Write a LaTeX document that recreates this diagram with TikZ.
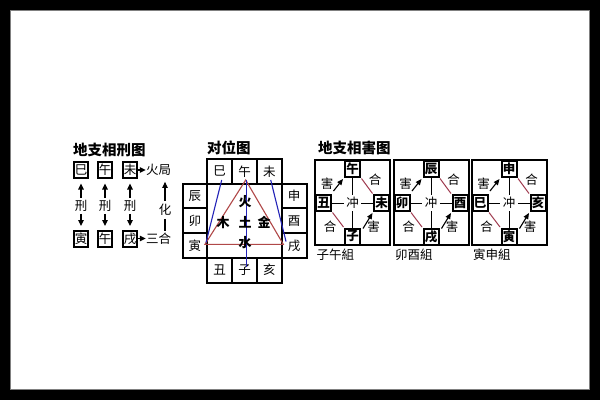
\documentclass[tikz,border=0pt]{standalone}
\usepackage{fontspec}
\newfontfamily\cjk{Noto Sans CJK SC}
\usetikzlibrary{arrows.meta}
\definecolor{tri}{HTML}{B04848}
\definecolor{hering}{HTML}{A03C50}
\definecolor{bl}{HTML}{2424B8}
\newcommand\haipanel[7]{%
\begin{scope}[shift={(#1,0)}]
\node[pframe] (#2-f) at (37.5,202.5) {};
\node[hbox] (#2-t) at (37.5,169) {#3};
\node[hbox] (#2-l) at (8.5,203) {#4};
\node[hbox] (#2-r) at (66.5,203) {#5};
\node[hbox] (#2-b) at (37.5,236.5) {#6};
\node[lab, inner sep=2.5] (#2-c) at (37.5,203) {冲};
\draw[hline] (#2-t) -- (#2-c);
\draw[hline] (#2-c) -- (#2-b);
\draw[hline] (#2-l) -- (#2-c);
\draw[hline] (#2-c) -- (#2-r);
\draw[harr] ([shift={(1.5,-3)}]#2-l.north east) -- ([shift={(-1,1)}]#2-t.south west);
\draw[harr] ([shift={(2,1)}]#2-b.north east) -- ([shift={(-0.5,1)}]#2-r.south west);
\draw[hering, line width=1] ([shift={(0.5,0.5)}]#2-t.south east) -- ([shift={(-0.5,-0.5)}]#2-r.north west);
\draw[hering, line width=1] ([shift={(0.5,0.5)}]#2-l.south east) -- ([shift={(-0.5,-0.5)}]#2-b.north west);
\node[lab] (#2-h1) at (12,183.3) {害};
\node[lab] (#2-g1) at (60,180) {合};
\node[lab] (#2-g2) at (15,226.7) {合};
\node[lab] (#2-h2) at (58.5,226.7) {害};
\node[lab, anchor=west] (#2-n) at (1.5,254.5) {#7};
\end{scope}}
\tikzset{
  title/.style={font=\cjk\bfseries\fontsize{14.5}{14.5}\selectfont, inner sep=0, anchor=west},
  lab/.style={font=\cjk\fontsize{12.5}{13}\selectfont, inner sep=0},
  blab/.style={font=\cjk\bfseries\fontsize{13}{13}\selectfont, inner sep=0},
  boxA/.style={lab, draw, line width=2, minimum width=14, minimum height=16},
  cell/.style={lab, draw, line width=2, minimum width=24.8, minimum height=24.7},
  hbox/.style={draw, line width=2, minimum width=15, minimum height=16, inner sep=0,
    font=\cjk\bfseries\fontsize{12.5}{13}\selectfont},
  pframe/.style={draw, line width=2, minimum width=75, minimum height=85, inner sep=0},
  arr/.style={-{Triangle[length=6pt,width=5.5pt]}, line width=1.1},
  harr/.style={-{Triangle[length=6pt,width=5pt]}, line width=1.1},
  hline/.style={line width=0.8},
}
\begin{document}
\begin{tikzpicture}[x=1pt,y=-1pt]
\useasboundingbox (0,0) rectangle (600,400);
% frame
\fill[black] (0,0) rectangle (600,400);
\fill[white] (10,10) rectangle (590,390);
\draw[gray, line width=1] (10.5,10.5) rectangle (589.5,389.5);

% ---------- panel 1: 地支相刑图
\node[title] (t1) at (73,150) {地支相刑图};
\node[boxA] (a1) at (81,170) {巳};
\node[boxA] (a2) at (105,170) {午};
\node[boxA] (a3) at (130,170) {未};
\node[boxA] (b1) at (81,238.5) {寅};
\node[boxA] (b2) at (105,238.5) {午};
\node[boxA] (b3) at (130,238.5) {戌};
\node[lab] (h1) at (158.5,170) {火局};
\node[lab] (h2) at (158.5,238.5) {三合};
\draw[arr] (a3.east) -- (h1.west);
\draw[arr] (b3.east) -- (h2.west);
\node[lab] (x1) at (81,206) {刑};
\node[lab] (x2) at (105,206) {刑};
\node[lab] (x3) at (130,206) {刑};
\foreach \i in {1,2,3}{
  \draw[arr, shorten <=2, shorten >=4.5] (x\i) -- (a\i);
  \draw[arr, shorten <=2, shorten >=3.5] (x\i) -- (b\i);
}
\node[lab] (hua) at (165,210) {化};
\draw[arr, shorten <=3, shorten >=6] (hua) -- (hua |- h1.south);
\draw[line width=1.1, shorten <=3, shorten >=2] (hua) -- (hua |- h2.north);

% ---------- panel 2: 对位图
\node[title] (t2) at (207,148) {对位图};
\node[cell] (si)  at (219.7,171.35) {巳};
\node[cell] (wu)  at (244.5,171.35) {午};
\node[cell] (wei) at (269.3,171.35) {未};
\node[cell] (chen) at (194.9,196.05) {辰};
\node[cell] (mao)  at (194.9,220.75) {卯};
\node[cell] (yin)  at (194.9,245.45) {寅};
\node[cell] (shen) at (294.1,196.05) {申};
\node[cell] (you)  at (294.1,220.75) {酉};
\node[cell] (xu)   at (294.1,245.45) {戌};
\node[cell] (chou) at (219.7,270.15) {丑};
\node[cell] (zi)   at (244.5,270.15) {子};
\node[cell] (hai)  at (269.3,270.15) {亥};
\node[draw, line width=2, minimum width=74.4, minimum height=74.1, inner sep=0] (ctr) at (244.5,220.75) {};
\coordinate (tA) at (245.7,180);
\coordinate (tB) at (205,244.3);
\coordinate (tC) at (283.3,244.3);
\draw[tri, line width=1.1] (tA) -- (tB) -- (tC) -- cycle;
\coordinate (s1) at (221.7,180);
\coordinate (s2) at (206,242.5);
\coordinate (w1) at (270.7,180);
\coordinate (w2) at (286,241.5);
\coordinate (m1) at (246.7,180);
\coordinate (m2) at (246.7,266.7);
\draw[bl, line width=1.1] (s1) -- (s2);
\draw[bl, line width=1.1] (w1) -- (w2);
\draw[bl, line width=1.1] (m1) -- (m2);
\node[blab] (huo) at (245,201.7) {火};
\node[blab] (tu)  at (245,222.5) {土};
\node[blab] (shui) at (245,243) {水};
\node[blab] (mu)  at (223,222.5) {木};
\node[blab] (jin) at (264,222.5) {金};

% ---------- panels 3-5: 地支相害图
\node[title] (t3) at (318,148) {地支相害图};
\haipanel{315}{pa}{午}{丑}{未}{子}{子午組}
\haipanel{393.5}{pb}{辰}{卯}{酉}{戌}{卯酉組}
\haipanel{471.5}{pc}{申}{巳}{亥}{寅}{寅申組}
\end{tikzpicture}
\end{document}
